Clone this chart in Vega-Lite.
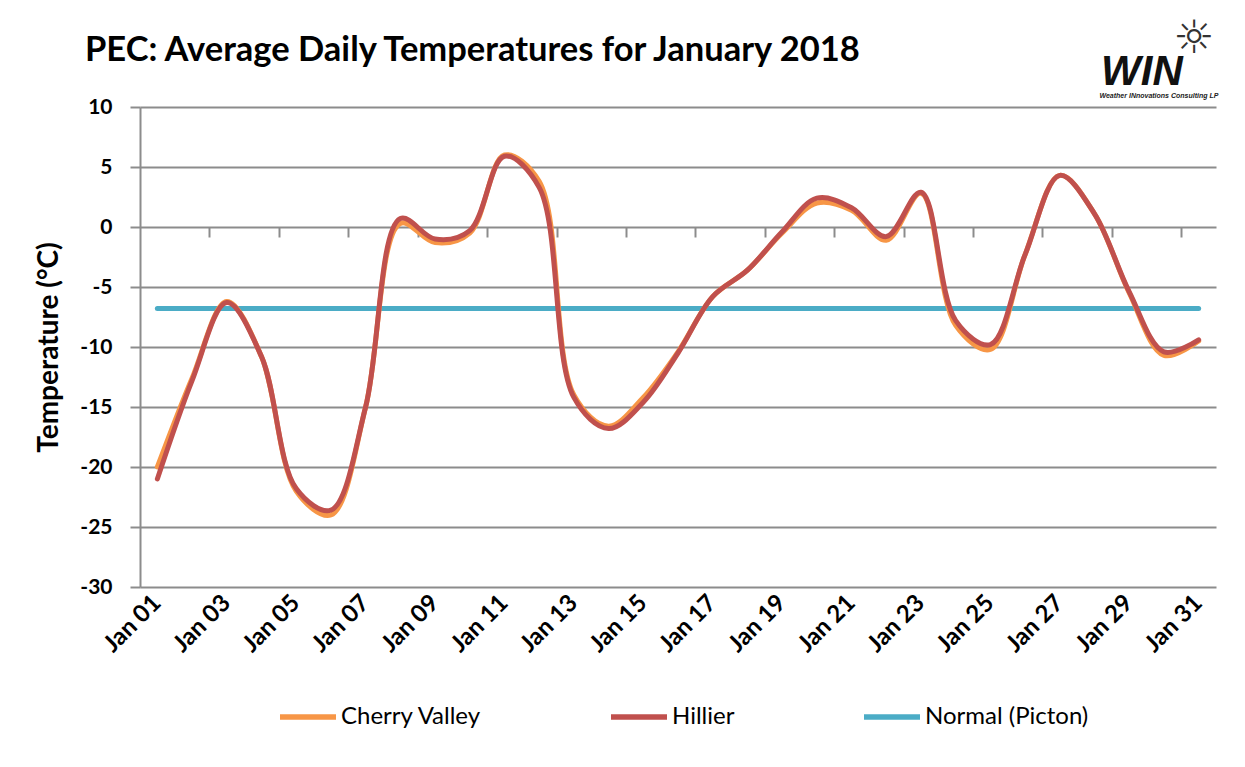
{
  "$schema": "https://vega.github.io/schema/vega-lite/v6.json",
  "autosize": "none",
  "width": 1076,
  "height": 480,
  "padding": {"left": 140, "top": 107, "right": 29, "bottom": 180},
  "background": "white",
  "config": {"view": {"stroke": null}, "font": "Lato"},
  "title": {"text": "PEC: Average Daily Temperatures for January 2018", "anchor": "start", "frame": "group", "dx": -55, "dy": 80, "fontSize": 34.5, "font": "Lato", "fontWeight": "bold", "color": "black", "baseline": "alphabetic", "offset": 0},
  "datasets": {
    "temps": [
      {"d": "Jan 01", "s": "Normal (Picton)", "t": -6.8}, {"d": "Jan 02", "s": "Normal (Picton)", "t": -6.8}, {"d": "Jan 03", "s": "Normal (Picton)", "t": -6.8}, {"d": "Jan 04", "s": "Normal (Picton)", "t": -6.8}, {"d": "Jan 05", "s": "Normal (Picton)", "t": -6.8}, {"d": "Jan 06", "s": "Normal (Picton)", "t": -6.8}, {"d": "Jan 07", "s": "Normal (Picton)", "t": -6.8}, {"d": "Jan 08", "s": "Normal (Picton)", "t": -6.8}, {"d": "Jan 09", "s": "Normal (Picton)", "t": -6.8}, {"d": "Jan 10", "s": "Normal (Picton)", "t": -6.8}, {"d": "Jan 11", "s": "Normal (Picton)", "t": -6.8}, {"d": "Jan 12", "s": "Normal (Picton)", "t": -6.8}, {"d": "Jan 13", "s": "Normal (Picton)", "t": -6.8}, {"d": "Jan 14", "s": "Normal (Picton)", "t": -6.8}, {"d": "Jan 15", "s": "Normal (Picton)", "t": -6.8}, {"d": "Jan 16", "s": "Normal (Picton)", "t": -6.8}, {"d": "Jan 17", "s": "Normal (Picton)", "t": -6.8}, {"d": "Jan 18", "s": "Normal (Picton)", "t": -6.8}, {"d": "Jan 19", "s": "Normal (Picton)", "t": -6.8}, {"d": "Jan 20", "s": "Normal (Picton)", "t": -6.8}, {"d": "Jan 21", "s": "Normal (Picton)", "t": -6.8}, {"d": "Jan 22", "s": "Normal (Picton)", "t": -6.8}, {"d": "Jan 23", "s": "Normal (Picton)", "t": -6.8}, {"d": "Jan 24", "s": "Normal (Picton)", "t": -6.8}, {"d": "Jan 25", "s": "Normal (Picton)", "t": -6.8}, {"d": "Jan 26", "s": "Normal (Picton)", "t": -6.8}, {"d": "Jan 27", "s": "Normal (Picton)", "t": -6.8}, {"d": "Jan 28", "s": "Normal (Picton)", "t": -6.8}, {"d": "Jan 29", "s": "Normal (Picton)", "t": -6.8}, {"d": "Jan 30", "s": "Normal (Picton)", "t": -6.8}, {"d": "Jan 31", "s": "Normal (Picton)", "t": -6.8},
      {"d": "Jan 01", "s": "Cherry Valley", "t": -20.0}, {"d": "Jan 02", "s": "Cherry Valley", "t": -12.6}, {"d": "Jan 03", "s": "Cherry Valley", "t": -6.2}, {"d": "Jan 04", "s": "Cherry Valley", "t": -10.8}, {"d": "Jan 05", "s": "Cherry Valley", "t": -22.0}, {"d": "Jan 06", "s": "Cherry Valley", "t": -24.0}, {"d": "Jan 07", "s": "Cherry Valley", "t": -15.0}, {"d": "Jan 08", "s": "Cherry Valley", "t": 0.3}, {"d": "Jan 09", "s": "Cherry Valley", "t": -1.3}, {"d": "Jan 10", "s": "Cherry Valley", "t": -0.5}, {"d": "Jan 11", "s": "Cherry Valley", "t": 6.0}, {"d": "Jan 12", "s": "Cherry Valley", "t": 3.8}, {"d": "Jan 13", "s": "Cherry Valley", "t": -14.0}, {"d": "Jan 14", "s": "Cherry Valley", "t": -16.6}, {"d": "Jan 15", "s": "Cherry Valley", "t": -14.2}, {"d": "Jan 16", "s": "Cherry Valley", "t": -10.4}, {"d": "Jan 17", "s": "Cherry Valley", "t": -5.8}, {"d": "Jan 18", "s": "Cherry Valley", "t": -3.6}, {"d": "Jan 19", "s": "Cherry Valley", "t": -0.5}, {"d": "Jan 20", "s": "Cherry Valley", "t": 2.0}, {"d": "Jan 21", "s": "Cherry Valley", "t": 1.4}, {"d": "Jan 22", "s": "Cherry Valley", "t": -1.1}, {"d": "Jan 23", "s": "Cherry Valley", "t": 2.8}, {"d": "Jan 24", "s": "Cherry Valley", "t": -8.2}, {"d": "Jan 25", "s": "Cherry Valley", "t": -10.2}, {"d": "Jan 26", "s": "Cherry Valley", "t": -2.3}, {"d": "Jan 27", "s": "Cherry Valley", "t": 4.3}, {"d": "Jan 28", "s": "Cherry Valley", "t": 1.1}, {"d": "Jan 29", "s": "Cherry Valley", "t": -5.5}, {"d": "Jan 30", "s": "Cherry Valley", "t": -10.7}, {"d": "Jan 31", "s": "Cherry Valley", "t": -9.5},
      {"d": "Jan 01", "s": "Hillier", "t": -21.0}, {"d": "Jan 02", "s": "Hillier", "t": -12.8}, {"d": "Jan 03", "s": "Hillier", "t": -6.3}, {"d": "Jan 04", "s": "Hillier", "t": -10.8}, {"d": "Jan 05", "s": "Hillier", "t": -21.8}, {"d": "Jan 06", "s": "Hillier", "t": -23.6}, {"d": "Jan 07", "s": "Hillier", "t": -15.0}, {"d": "Jan 08", "s": "Hillier", "t": 0.7}, {"d": "Jan 09", "s": "Hillier", "t": -1.0}, {"d": "Jan 10", "s": "Hillier", "t": -0.3}, {"d": "Jan 11", "s": "Hillier", "t": 5.9}, {"d": "Jan 12", "s": "Hillier", "t": 3.3}, {"d": "Jan 13", "s": "Hillier", "t": -14.2}, {"d": "Jan 14", "s": "Hillier", "t": -16.8}, {"d": "Jan 15", "s": "Hillier", "t": -14.6}, {"d": "Jan 16", "s": "Hillier", "t": -10.5}, {"d": "Jan 17", "s": "Hillier", "t": -5.8}, {"d": "Jan 18", "s": "Hillier", "t": -3.6}, {"d": "Jan 19", "s": "Hillier", "t": -0.4}, {"d": "Jan 20", "s": "Hillier", "t": 2.4}, {"d": "Jan 21", "s": "Hillier", "t": 1.6}, {"d": "Jan 22", "s": "Hillier", "t": -0.8}, {"d": "Jan 23", "s": "Hillier", "t": 2.9}, {"d": "Jan 24", "s": "Hillier", "t": -7.8}, {"d": "Jan 25", "s": "Hillier", "t": -9.8}, {"d": "Jan 26", "s": "Hillier", "t": -2.3}, {"d": "Jan 27", "s": "Hillier", "t": 4.3}, {"d": "Jan 28", "s": "Hillier", "t": 1.1}, {"d": "Jan 29", "s": "Hillier", "t": -5.4}, {"d": "Jan 30", "s": "Hillier", "t": -10.4}, {"d": "Jan 31", "s": "Hillier", "t": -9.4}
    ]
  },
  "resolve": {"axis": {"x": "independent"}},
  "layer": [
    {
      "data": {"name": "temps"},
      "mark": {"type": "line", "interpolate": "catmull-rom", "strokeWidth": 5, "strokeCap": "round", "strokeJoin": "round"},
      "encoding": {
        "x": {"field": "d", "type": "ordinal", "sort": null, "bandPosition": 0.5,
          "scale": {"type": "band", "paddingInner": 0, "paddingOuter": 0},
          "axis": {"values": ["Jan 01","Jan 03","Jan 05","Jan 07","Jan 09","Jan 11","Jan 13","Jan 15","Jan 17","Jan 19","Jan 21","Jan 23","Jan 25","Jan 27","Jan 29","Jan 31"],
            "labelAngle": -45, "labelAlign": "right", "labelBaseline": "middle", "labelFont": "Lato", "labelFontWeight": "bold", "labelFontSize": 24, "labelColor": "black", "labelPadding": 12,
            "ticks": false, "domain": false, "grid": false, "title": null, "orient": "bottom"}},
        "y": {"field": "t", "type": "quantitative",
          "scale": {"domain": [-30, 10], "nice": false, "zero": false},
          "axis": {"values": [-30, -25, -20, -15, -10, -5, 0, 5, 10], "labelExpr": "'' + datum.value", "grid": true, "gridColor": "#8c8c8c", "gridWidth": 2,
            "domainColor": "#8c8c8c", "domainWidth": 2, "tickColor": "#8c8c8c", "tickWidth": 2, "tickSize": 10,
            "labelFont": "Lato", "labelFontWeight": "bold", "labelFontSize": 21, "labelColor": "black", "labelPadding": 18,
            "title": "Temperature (°C)", "titleFont": "Lato", "titleFontSize": 28, "titleFontWeight": "bold", "titleColor": "black", "titlePadding": 16}},
        "color": {"field": "s", "type": "nominal",
          "scale": {"domain": ["Cherry Valley", "Hillier", "Normal (Picton)"], "range": ["#F79646", "#C0504D", "#4BACC6"]},
          "legend": {"orient": "none", "legendX": 137, "legendY": 579, "direction": "horizontal", "title": null, "symbolType": "stroke", "symbolSize": 3136, "symbolStrokeWidth": 5.5,
            "labelFont": "Lato", "labelFontSize": 24, "labelColor": "black", "labelLimit": 400, "columnPadding": 118, "labelOffset": 2}}
      }
    },
    {
      "data": {"name": "temps"},
      "mark": {"type": "point", "opacity": 0},
      "encoding": {
        "x": {"field": "d", "type": "ordinal", "sort": null,
          "axis": {"orient": "bottom", "offset": -360, "labels": false, "domain": false, "grid": false, "ticks": true, "tickSize": 10, "tickColor": "#8c8c8c", "tickWidth": 2, "tickOffset": -17.35, "title": null,
            "values": ["Jan 03","Jan 05","Jan 07","Jan 09","Jan 11","Jan 13","Jan 15","Jan 17","Jan 19","Jan 21","Jan 23","Jan 25","Jan 27","Jan 29","Jan 31"]}},
        "y": {"field": "t", "type": "quantitative"}
      }
    },
    {
      "data": {"values": [{"label": "WIN"}]},
      "mark": {"type": "text", "font": "Liberation Sans", "fontWeight": "bold", "fontStyle": "italic", "fontSize": 42, "align": "center", "baseline": "alphabetic", "dx": -22, "color": "#111"},
      "encoding": {"text": {"field": "label"}, "x": {"datum": "Jan 30", "axis": null}, "y": {"datum": 11.85}}
    },
    {
      "data": {"values": [{"label": "Weather INnovations Consulting LP"}]},
      "mark": {"type": "text", "font": "Liberation Sans", "fontWeight": "bold", "fontStyle": "italic", "fontSize": 7, "align": "center", "baseline": "middle", "dx": -5, "color": "#222"},
      "encoding": {"text": {"field": "label"}, "x": {"datum": "Jan 30", "axis": null}, "y": {"datum": 10.95}}
    },
    {
      "data": {"values": [{"label": "☼"}]},
      "mark": {"type": "text", "font": "DejaVu Sans", "fontSize": 46, "align": "center", "baseline": "middle", "dx": 30, "color": "#333"},
      "encoding": {"text": {"field": "label"}, "x": {"datum": "Jan 30", "axis": null}, "y": {"datum": 15.7}}
    }
  ]
}
